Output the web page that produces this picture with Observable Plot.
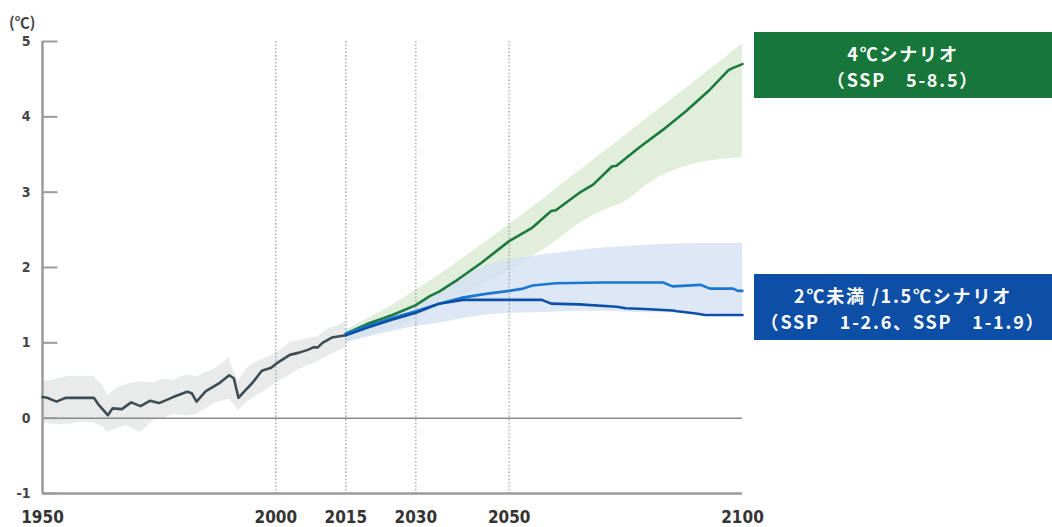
<!DOCTYPE html>
<html>
<head>
<meta charset="utf-8">
<script src="https://cdn.jsdelivr.net/npm/d3@7"></script>
<script src="https://cdn.jsdelivr.net/npm/@observablehq/plot@0.6"></script>
<style>
  html, body { margin: 0; padding: 0; background: #fff; }
  #wrap { position: relative; width: 1052px; height: 527px; overflow: hidden; }
  .box { position: absolute; left: 754px; width: 298px; height: 66px; box-sizing: border-box; padding-top: 8px; }
  .ln { display: block; color: #fff; text-align: center; white-space: nowrap;
        font-family: "Noto Sans CJK JP", "Noto Sans", sans-serif; font-weight: 700; font-size: 18px; line-height: 26px; letter-spacing: 1.8px; }
  .unit { position: absolute; left: 9px; top: 12px; font-family: "Noto Sans CJK JP", sans-serif; font-weight: 700; font-size: 15px; line-height: 20px; color: #444; }
</style>
</head>
<body>
<div id="wrap">
  <div id="chart"></div>
  <div class="unit">(℃)</div>
  <div class="box" style="top:32px;background:#17773a;"><span class="ln">4℃シナリオ</span><span class="ln">（SSP　5-8.5）</span></div>
  <div class="box" style="top:274px;background:#0d4ea6;"><span class="ln">2℃未満 /1.5℃シナリオ</span><span class="ln">（SSP　1-2.6、SSP　1-1.9）</span></div>
</div>
<script>
// ---- Data ----
const xTicks = [1950, 2000, 2015, 2030, 2050, 2100];
const markerYears = [2000, 2015, 2030, 2050];
const yTicks = [-1, 0, 1, 2, 3, 4, 5];

// Historical observed mean
const histYears = [1950,1951,1953,1955,1958,1961,1962,1964,1965,1967,1969,1971,1973,1975,1978,1981,1982,1983,1985,1988,1990,1991,1992,1993,1995,1997,1999,2000,2003,2005,2007,2008,2009,2010,2012,2014,2015];
const histMean  = [0.28,0.27,0.22,0.27,0.27,0.27,0.18,0.04,0.13,0.12,0.21,0.16,0.23,0.20,0.28,0.35,0.33,0.22,0.36,0.47,0.57,0.53,0.27,0.34,0.47,0.63,0.67,0.72,0.84,0.87,0.91,0.94,0.94,1.00,1.07,1.09,1.10];

// Historical uncertainty band
const histBandYears = [1950,1952,1955,1958,1961,1963,1964,1966,1968,1971,1974,1976,1978,1981,1983,1987,1990,1991,1992,1994,1996,1999,2001,2003,2005,2007,2009,2011,2013,2015];
const histHigh = [0.49,0.50,0.55,0.56,0.55,0.42,0.30,0.40,0.45,0.48,0.47,0.52,0.50,0.58,0.55,0.66,0.80,0.62,0.49,0.68,0.75,0.83,0.90,1.00,1.03,1.06,1.08,1.18,1.22,1.28];
const histLow  = [-0.06,-0.08,-0.09,-0.05,-0.06,-0.12,-0.19,-0.14,-0.10,-0.19,-0.02,0.00,0.05,0.03,0.05,0.20,0.25,0.18,0.10,0.22,0.30,0.42,0.50,0.57,0.65,0.70,0.75,0.82,0.88,0.93];

// Scenario bands (2015-2100)
const bandYears = [2015,2020,2025,2030,2035,2040,2045,2050,2055,2060,2065,2070,2075,2080,2085,2090,2095,2100];
const ssp585High = [1.17,1.33,1.50,1.70,1.90,2.12,2.34,2.57,2.80,3.04,3.28,3.52,3.76,4.00,4.24,4.48,4.72,4.97];
const ssp585Low  = [1.00,1.10,1.20,1.32,1.48,1.64,1.80,1.95,2.15,2.35,2.58,2.75,2.88,3.12,3.28,3.38,3.43,3.46];
const lowHigh    = [1.15,1.27,1.38,1.50,1.70,1.88,2.02,2.10,2.15,2.19,2.23,2.26,2.28,2.30,2.31,2.32,2.32,2.32];
const lowLow     = [1.00,1.08,1.15,1.22,1.26,1.32,1.37,1.39,1.40,1.41,1.42,1.42,1.41,1.40,1.40,1.39,1.38,1.38];

// Scenario central lines
const ssp585Years = [2015,2020,2025,2030,2033,2035,2039,2044,2050,2055,2059,2060,2065,2068,2072,2073,2078,2083,2088,2093,2097,2098,2100];
const ssp585Mean  = [1.12,1.26,1.37,1.50,1.62,1.68,1.84,2.06,2.35,2.53,2.75,2.76,2.99,3.10,3.34,3.35,3.60,3.83,4.08,4.36,4.62,4.65,4.70];
const ssp126Years = [2015,2020,2025,2030,2035,2040,2045,2050,2053,2055,2060,2070,2083,2085,2091,2093,2098,2099,2100];
const ssp126Mean  = [1.12,1.23,1.33,1.42,1.52,1.60,1.65,1.69,1.72,1.76,1.79,1.80,1.80,1.75,1.77,1.72,1.72,1.69,1.69];
const ssp119Years = [2015,2020,2025,2030,2035,2040,2057,2059,2065,2073,2075,2079,2085,2086,2090,2092,2100];
const ssp119Mean  = [1.10,1.21,1.31,1.40,1.52,1.57,1.57,1.52,1.51,1.48,1.46,1.45,1.43,1.42,1.39,1.37,1.37];

// ---- Tables ----
const zip = (xs, ...cols) => xs.map((x, i) => ({x, a: cols[0][i], b: cols[1] ? cols[1][i] : undefined}));
const hist = zip(histYears, histMean);
const histBand = zip(histBandYears, histLow, histHigh);
const band585 = zip(bandYears, ssp585Low, ssp585High);
const bandLow = zip(bandYears, lowLow, lowHigh);
const line585 = zip(ssp585Years, ssp585Mean);
const line126 = zip(ssp126Years, ssp126Mean);
const line119 = zip(ssp119Years, ssp119Mean);

const labelFont = "'DejaVu Sans Condensed', 'DejaVu Sans', sans-serif";

const chart = Plot.plot({
  width: 1052,
  height: 527,
  marginLeft: 42,
  marginRight: 310,
  marginTop: 41,
  marginBottom: 34,
  style: {fontFamily: labelFont, background: "#fff", overflow: "visible"},
  x: {domain: [1950, 2100], axis: null},
  y: {domain: [-1, 5], axis: null},
  marks: [
    Plot.areaY(histBand, {x: "x", y1: "a", y2: "b", fill: "#e9ebeb", curve: "linear"}),
    Plot.areaY(band585, {x: "x", y1: "a", y2: "b", fill: "#e0eedb", curve: "monotone-x"}),
    Plot.areaY(bandLow, {x: "x", y1: "a", y2: "b", fill: "#d4e1f4", fillOpacity: 0.8, curve: "monotone-x"}),
    Plot.ruleX(markerYears, {stroke: "#9a9a9a", strokeWidth: 1.2, strokeDasharray: "1.5,2"}),
    Plot.ruleY([0], {stroke: "#8a8a8a", strokeWidth: 1.5}),
    Plot.ruleX([1950], {stroke: "#9a9a9a", strokeWidth: 2.5}),
    Plot.ruleY([-1], {stroke: "#9a9a9a", strokeWidth: 2.5}),
    Plot.ruleY(yTicks, {x1: 1950, x2: 1953.3, stroke: "#9a9a9a", strokeWidth: 2}),
    Plot.line(hist, {x: "x", y: "a", stroke: "#3e4c54", strokeWidth: 2.6}),
    Plot.line(line585, {x: "x", y: "a", stroke: "#1b7a3c", strokeWidth: 2.6}),
    Plot.line(line126, {x: "x", y: "a", stroke: "#1a78d0", strokeWidth: 2.6}),
    Plot.line(line119, {x: "x", y: "a", stroke: "#0e4fa6", strokeWidth: 2.6}),
    Plot.axisY(yTicks, {label: null, tickSize: 0, tickPadding: 12, fontSize: 14, fontWeight: "bold", fill: "#444", tickFormat: d => String(d)}),
    Plot.axisX(xTicks, {label: null, tickSize: 0, tickPadding: 17, fontSize: 17, fontWeight: "bold", fill: "#333", tickFormat: d => String(d)})
  ]
});
document.getElementById("chart").appendChild(chart);
</script>
</body>
</html>
